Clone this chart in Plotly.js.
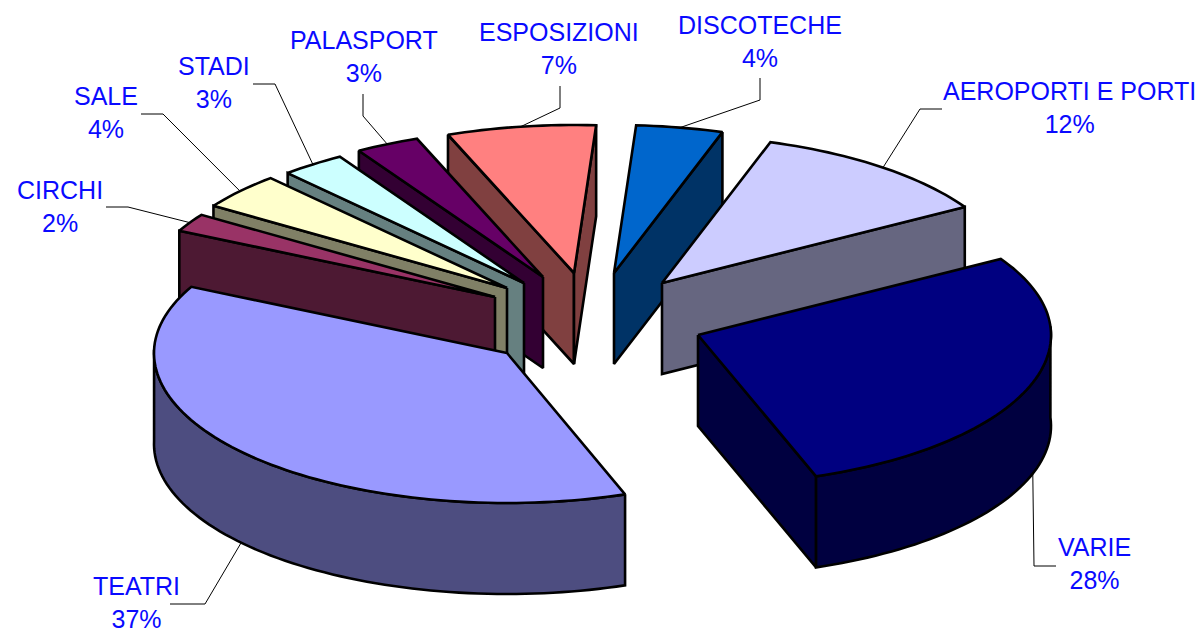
<!DOCTYPE html>
<html>
<head>
<meta charset="utf-8">
<script src="https://cdn.plot.ly/plotly-3.0.1.min.js"></script>
<style>html,body{margin:0;padding:0;background:#fff}#chart{width:1203px;height:636px}</style>
</head>
<body>
<div id="chart"></div>
<script>
// Data, clockwise from the first slice
var categories = ['AEROPORTI E PORTI','VARIE','TEATRI','CIRCHI','SALE','STADI','PALASPORT','ESPOSIZIONI','DISCOTECHE'];
var percentages = [12,28,37,2,4,3,3,7,4];
var topColors = ['#CCCCFF','#000080','#9999FF','#993366','#FFFFCC','#CCFFFF','#660066','#FF8080','#0066CC'];
var wallColors = ['#666680','#000040','#4D4D80','#4D1933','#808066','#668080','#330033','#804040','#003366'];

// Pie geometry in screen pixels
var startAngle = 18, radiusX = 353, radiusBack = 148, radiusFront = 150, depth = 91;
var apexX = [662,698,507,495,507,524,543,574,614];
var apexY = [283,335,353,297,288,283,277,273,273];
var drawOrder = [7,8,6,5,4,3,0,1,2];

// Label placement: label centre, leader elbow, leader end
var labelX = [1069,1094,136,60,106,214,364,559,760];
var labelY = [107,563,602,206,112,82,56,48,41];
var elbowX = [920,1034,205,128,163,275,363,560,760];
var elbowY = [109,566,604,207,114,84,116,108,100];
var leadX  = [942,1056,170,106,141,253,363,560,760];
var leadY  = [109,566,604,207,114,84,94,86,78];

function rad(d){return d*Math.PI/180;}
// The view angle bends the apparent angles of the tilted disc a little
function view(a){
  var h=Math.sin(rad(a/2)), s=Math.sin(rad(a));
  return a-(s>0?2.6*s*s*s:2*s)-1.5*h*h;
}
function pt(i,ang,drop){
  var v=view(ang), c=Math.cos(rad(v));
  return [apexX[i]+radiusX*Math.sin(rad(v)), apexY[i]-(c>0?radiusBack:radiusFront)*c+(drop||0)];
}
function poly(points,fill,name){
  return {type:'scatter',mode:'lines',fill:'toself',fillcolor:fill,
    x:points.map(function(p){return p[0];}),y:points.map(function(p){return p[1];}),
    line:{color:'#000000',width:2.6,simplify:false},name:name,hoverinfo:'name',showlegend:false};
}
function arc(i,a,b,drop){
  var out=[],n=Math.max(2,Math.ceil(Math.abs(b-a)/1.5));
  for(var k=0;k<=n;k++){out.push(pt(i,a+(b-a)*k/n,drop));}
  return out;
}

var starts=[],ends=[],cur=startAngle;
percentages.forEach(function(v){starts.push(cur);cur+=v*3.6;ends.push(cur);});

var traces=[],annotations=[];

// Leader lines go under the slices
categories.forEach(function(name,i){
  var mid=(starts[i]+ends[i])/2, front=Math.cos(rad(mid))<0;
  var e=pt(i,mid,front?depth:0);
  traces.push({type:'scatter',mode:'lines',x:[leadX[i],elbowX[i],e[0]],y:[leadY[i],elbowY[i],e[1]],
    line:{color:'#000000',width:1},hoverinfo:'skip',showlegend:false});
  annotations.push({xref:'x',yref:'y',x:labelX[i],y:labelY[i],xanchor:'center',yanchor:'middle',
    showarrow:false,align:'center',text:name+'<br>'+percentages[i]+'%',
    font:{family:'"Liberation Sans", Arial, sans-serif',size:25,color:'#0A0AFF'}});
});

drawOrder.forEach(function(i){
  var s=starts[i],e=ends[i],n=categories[i];
  var apex=[apexX[i],apexY[i]],apexLow=[apexX[i],apexY[i]+depth];
  if(Math.sin(rad(s))<0){
    var a=pt(i,s),b=pt(i,s,depth);
    traces.push(poly([apex,a,b,apexLow,apex],wallColors[i],n));
  }
  if(Math.sin(rad(e))>0){
    var c=pt(i,e),d=pt(i,e,depth);
    traces.push(poly([apex,c,d,apexLow,apex],wallColors[i],n));
  }
  var fs=Math.max(s,90),fe=Math.min(e,270);
  if(fe>fs){
    var upper=arc(i,fs,fe,0),lower=arc(i,fe,fs,depth);
    traces.push(poly(upper.concat(lower,[upper[0]]),wallColors[i],n));
  }
  traces.push(poly([apex].concat(arc(i,s,e,0),[apex]),topColors[i],n));
});

Plotly.newPlot('chart',traces,{
  width:1203,height:636,margin:{l:0,r:0,t:0,b:0},
  paper_bgcolor:'#ffffff',plot_bgcolor:'#ffffff',showlegend:false,
  xaxis:{range:[0,1203],visible:false,fixedrange:true},
  yaxis:{range:[636,0],visible:false,fixedrange:true},
  annotations:annotations
},{displayModeBar:false,staticPlot:false});
</script>
</body>
</html>
